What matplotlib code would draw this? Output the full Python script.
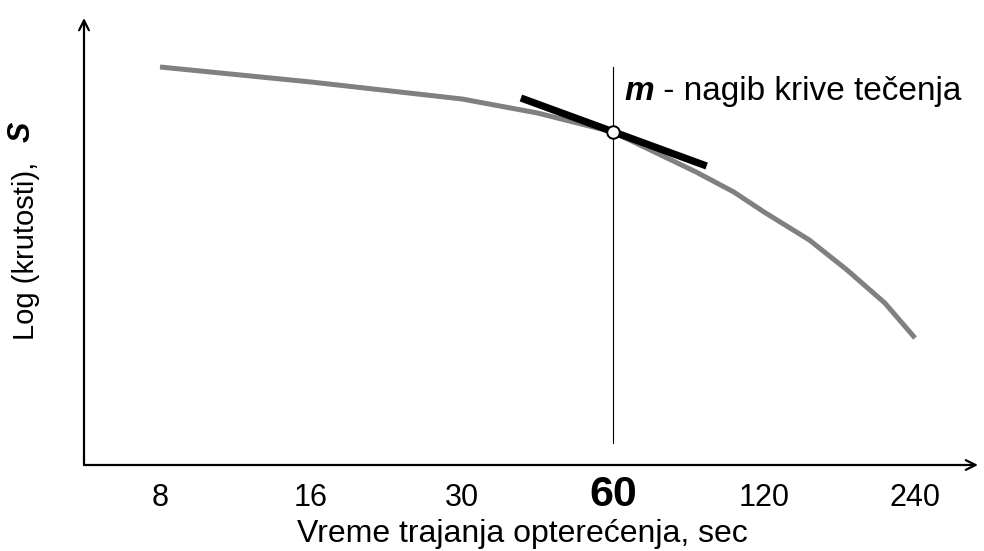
import matplotlib
matplotlib.use("Agg")
import matplotlib.pyplot as plt

# ---- data ----
time_labels = ["8", "16", "30", "60", "120", "240"]
tick_pos = [0, 1, 2, 3, 4, 5]
# curve points (position on the log-time axis, log stiffness, arbitrary units)
curve_pos = [0, 1, 2, 2.5, 3, 3.55, 3.8, 4.0, 4.3, 4.55, 4.8, 5.0]
curve_val = [3.98, 3.83, 3.66, 3.52, 3.33, 2.93, 2.73, 2.53, 2.25, 1.95, 1.62, 1.27]
# tangent at t = 60 s
tangent_pos = [2.39, 3.62]
tangent_val = [3.67, 2.99]
point_pos = 3
point_val = 3.33
vline_val = [0.22, 3.98]

FONT = "Liberation Sans"
plt.rcParams["font.family"] = [FONT, "DejaVu Sans"]

W, H = 984, 551
fig = plt.figure(figsize=(W / 100, H / 100), dpi=100)
ax = fig.add_axes([84 / W, 86 / H, (978 - 84) / W, (465 - 18) / H])
ax.set_xlim(-0.5033, 5.417)
ax.set_ylim(0, 4.47)
for s in ax.spines.values():
    s.set_visible(False)

# axes with arrowheads
arrow_kw = dict(arrowstyle="->,head_length=0.7,head_width=0.35", lw=1.6, color="black",
                shrinkA=0, shrinkB=0)
ax.annotate("", xy=(1, 0), xytext=(0, 0), xycoords="axes fraction",
            arrowprops=arrow_kw, annotation_clip=False)
ax.annotate("", xy=(0, 1), xytext=(0, 0), xycoords="axes fraction",
            arrowprops=arrow_kw, annotation_clip=False)

# curve
ax.plot(curve_pos, curve_val, color="#808080", lw=3.6, solid_capstyle="butt",
        solid_joinstyle="miter", zorder=2)
# vertical line at 60 s
ax.plot([point_pos, point_pos], vline_val, color="black", lw=0.8, zorder=3)
# tangent
ax.plot(tangent_pos, tangent_val, color="black", lw=5.2, solid_capstyle="butt", zorder=4)
# point
ax.plot([point_pos], [point_val], marker="o", ms=9, mfc="white", mec="black", mew=1.4,
        zorder=5)

# ticks
ax.set_yticks([])
ax.set_xticks(tick_pos, time_labels)
ax.tick_params(axis="x", length=0, pad=29.5, labelsize=22)
for lab in ax.get_xticklabels():
    lab.set_verticalalignment("baseline")
    lab.set_fontfamily(FONT)
    if lab.get_text() == "60":
        lab.set_fontsize(31)
        lab.set_fontweight("bold")

# x label
fig.text(522 / W, (H - 542) / H, "Vreme trajanja opterećenja, sec", ha="center",
         va="baseline", fontsize=23, family=FONT)

# y label
fig.text(26 / W, (H - 340) / H, "Log (krutosti),", rotation=90, ha="center",
         va="bottom", fontsize=21, family=FONT)
fig.text(22 / W, (H - 132) / H, "S", rotation=90, ha="center", va="center",
         fontsize=22, family=FONT, fontweight="bold", style="italic")

# annotation text
t1 = ax.annotate("m", xy=(point_pos, 3.73), xytext=(11, 0), textcoords="offset pixels",
                 ha="left", va="center", fontsize=24, fontweight="bold", style="italic",
                 family=FONT)
ax.annotate(" - nagib krive tečenja", xy=(1, 0.5), xycoords=t1, ha="left", va="center",
            fontsize=24, family=FONT)

fig.savefig("out.png", dpi=100)
